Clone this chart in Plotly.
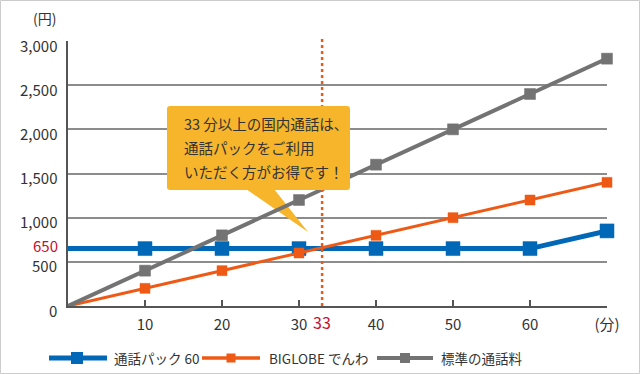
import plotly.graph_objects as go

minutes = [0, 10, 20, 30, 40, 50, 60, 70]
pack60 = [650, 650, 650, 650, 650, 650, 650, 850]
biglobe = [0, 200, 400, 600, 800, 1000, 1200, 1400]
standard = [0, 400, 800, 1200, 1600, 2000, 2400, 2800]
series_names = ["通話パック 60", "BIGLOBE でんわ", "標準の通話料"]
y_ticks = [0, 500, 1000, 1500, 2000, 2500, 3000]
y_ticktext = ["0", "500", "1,000", "1,500", "2,000", "2,500", "3,000"]
x_ticks = [10, 20, 30, 40, 50, 60, 70]
x_ticktext = ["10", "20", "30", "40", "50", "60", "(分)"]
callout_lines = ["33 分以上の国内通話は、", "通話パックをご利用", "いただく方がお得です！"]
break_even = 33
pack_price = 650

BLUE = "#0068b7"
ORANGE = "#ee5a16"
GRAY = "#737373"
TEXT = "#333333"
RED = "#c8102e"
CALLOUT = "#f7b52c"
FONT = "Noto Sans CJK JP"

# layout geometry (pixels)
L, R, T, B = 68, 607, 41, 306
W, H = 640, 374
PW, PH = R - L, B - T


def px(xp):
    return (xp - L) / PW


def py(yp):
    return (B - yp) / PH


def dx(xp):
    return (xp - L) / PW * 70


def dy(yp):
    return (B - yp) / PH * 3000


fig = go.Figure()

styles = [
    (pack60, BLUE, 5, 14),
    (biglobe, ORANGE, 3, 10),
    (standard, GRAY, 4, 11),
]
for (vals, color, lw, ms), name in zip(styles, series_names):
    fig.add_trace(go.Scatter(
        x=minutes, y=vals, name=name, mode="lines+markers",
        line=dict(color=color, width=lw),
        marker=dict(symbol="square", color=color, opacity=1,
                    size=[0] + [ms] * (len(minutes) - 1),
                    line=dict(color=color, width=0.5)),
        cliponaxis=False, showlegend=False, hoverinfo="skip",
    ))

shapes = []
# outer border
shapes.append(dict(type="rect", xref="paper", yref="paper",
                   x0=px(0.5), x1=px(W - 0.5), y0=py(H - 0.5), y1=py(0.5),
                   line=dict(color="#cccccc", width=1), fillcolor="rgba(0,0,0,0)", layer="below"))
# dotted break-even line
shapes.append(dict(type="line", xref="paper", yref="paper",
                   x0=break_even / 70, x1=break_even / 70, y0=0, y1=py(36),
                   line=dict(color=ORANGE, width=2.5, dash="dot"), layer="above"))
# callout pointer
tri = "M {:.3f},{:.1f} L {:.3f},{:.1f} L {:.3f},{:.1f} Z".format(
    dx(246), dy(189), dx(274), dy(189), dx(308), dy(232))
shapes.append(dict(type="path", xref="x", yref="y", path=tri,
                   fillcolor=CALLOUT, line=dict(width=0), layer="between"))
# callout box with rounded corners
x0, x1, y0, y1 = 167, 350, 106, 190
r = 3
box = ("M {a},{b} L {c},{b} Q {d},{b} {d},{e} L {d},{f} Q {d},{g} {c},{g} "
       "L {a},{g} Q {h},{g} {h},{f} L {h},{e} Q {h},{b} {a},{b} Z").format(
    a=f"{dx(x0 + r):.3f}", c=f"{dx(x1 - r):.3f}", d=f"{dx(x1):.3f}", h=f"{dx(x0):.3f}",
    b=f"{dy(y0):.1f}", e=f"{dy(y0 + r):.1f}", f=f"{dy(y1 - r):.1f}", g=f"{dy(y1):.1f}")
shapes.append(dict(type="path", xref="x", yref="y", path=box,
                   fillcolor=CALLOUT, line=dict(width=0), layer="above"))

# manual legend
legend_items = [
    (BLUE, 5, 12, 49, 107, 77, 112),
    (ORANGE, 3.5, 9, 202, 260, 231, 267),
    (GRAY, 4, 10, 377, 433, 405, 439),
]
LY = 358
annotations = []
for (color, lw, ms, lx0, lx1, mx, tx), name in zip(legend_items, series_names):
    shapes.append(dict(type="line", xref="paper", yref="paper",
                       x0=px(lx0), x1=px(lx1), y0=py(LY), y1=py(LY),
                       line=dict(color=color, width=lw)))
    shapes.append(dict(type="rect", xref="paper", yref="paper",
                       x0=px(mx - ms / 2), x1=px(mx + ms / 2),
                       y0=py(LY + ms / 2), y1=py(LY - ms / 2),
                       fillcolor=color, line=dict(width=0)))
    annotations.append(dict(xref="paper", yref="paper", x=px(tx), y=py(LY),
                            xanchor="left", yanchor="middle", showarrow=False,
                            text=name, font=dict(family=FONT, size=13.5, color=TEXT)))

for line_text, ly in zip(callout_lines, [123, 147, 171]):
    annotations.append(dict(xref="x", yref="y", x=dx(182), y=dy(ly), xanchor="left",
                            yanchor="middle", showarrow=False, text=line_text,
                            font=dict(family=FONT, size=14.5, color=TEXT)))

# y tick labels, sitting slightly below their gridlines as in the reference
for v, t in zip(y_ticks, y_ticktext):
    annotations.append(dict(xref="paper", yref="y", x=px(58), y=v, yshift=-4,
                            xanchor="right", yanchor="middle", showarrow=False, text=t,
                            borderpad=0, font=dict(family=FONT, size=15, color=TEXT)))

annotations += [
    dict(xref="paper", yref="y", x=px(59), y=pack_price, yshift=3, borderpad=0,
         xanchor="right", yanchor="middle", showarrow=False, text=str(pack_price),
         font=dict(family=FONT, size=15, color=RED)),
    dict(xref="paper", yref="paper", x=break_even / 70, y=py(322), xanchor="center",
         yanchor="middle", showarrow=False, text=str(break_even),
         font=dict(family=FONT, size=16, color=RED)),
    dict(xref="paper", yref="paper", x=px(58), y=py(18), xanchor="right",
         yanchor="middle", showarrow=False, text="(円)",
         font=dict(family=FONT, size=14, color=TEXT)),
]

fig.update_layout(
    width=W, height=H,
    margin=dict(l=L, r=W - R, t=T, b=H - B, pad=0),
    paper_bgcolor="white", plot_bgcolor="white",
    font=dict(family=FONT, size=14, color=TEXT),
    shapes=shapes, annotations=annotations, showlegend=False,
    xaxis=dict(range=[0, 70], tickvals=x_ticks, ticktext=x_ticktext,
               showgrid=False, zeroline=False, showline=True, linecolor="#555555",
               linewidth=1.5, ticks="inside", ticklen=6, tickwidth=1.5, tickcolor="#555555",
               ticklabelstandoff=4, tickfont=dict(family=FONT, size=15, color=TEXT),
               fixedrange=True),
    yaxis=dict(range=[0, 3000], tickvals=y_ticks, showticklabels=False,
               showgrid=True, gridcolor="#8c8c8c", gridwidth=1.5, zeroline=False,
               showline=True, linecolor="#555555", linewidth=1.5, ticks="",
               fixedrange=True),
)

fig.write_html("out.html", config={"displayModeBar": False},
               post_script="document.body.style.margin='0px';document.body.style.padding='0px';")
